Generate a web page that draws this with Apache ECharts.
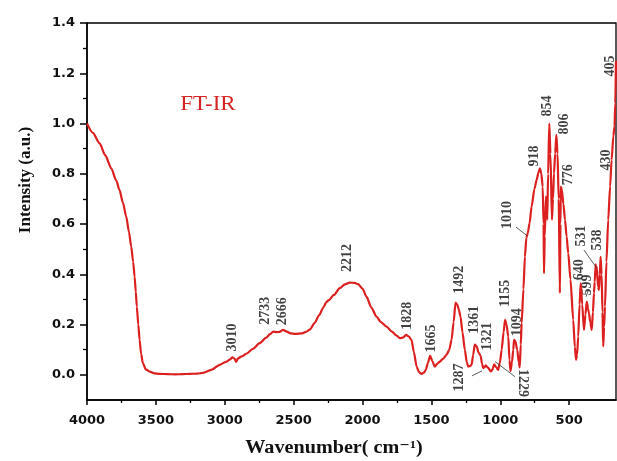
<!DOCTYPE html>
<html>
<head>
<meta charset="utf-8">
<script src="https://cdn.jsdelivr.net/npm/echarts@6/dist/echarts.min.js"></script>
<style>
  html, body { margin: 0; padding: 0; background: #ffffff; }
  #chart { width: 617px; height: 461px; }
</style>
</head>
<body>
<div id="chart"></div>
<script>
// FT-IR spectrum: wavenumber (cm^-1) and normalised intensity
const wavenumber = [
  4000, 3960, 3915, 3875, 3835, 3800, 3779, 3755, 3733, 3715, 3699, 3686, 3676, 3668, 3661, 3651,
  3642, 3632, 3620, 3600, 3574, 3540, 3506, 3450, 3400, 3350, 3300, 3250, 3211, 3150, 3097, 3050,
  3025, 3010, 2995, 2985, 2972, 2945, 2916, 2870, 2825, 2780, 2755, 2733, 2710, 2690, 2666, 2640,
  2615, 2580, 2541, 2510, 2484, 2450, 2420, 2390, 2371, 2355, 2320, 2280, 2245, 2212, 2180, 2155,
  2125, 2098, 2065, 2030, 2000, 1962, 1925, 1895, 1871, 1850, 1828, 1810, 1792, 1775, 1757, 1740,
  1724, 1707, 1694, 1680, 1665, 1650, 1633, 1615, 1599, 1575, 1553, 1535, 1519, 1505, 1492, 1480,
  1470, 1458, 1445, 1429, 1415, 1406, 1395, 1383, 1372, 1361, 1349, 1335, 1321, 1312, 1304, 1295,
  1287, 1270, 1252, 1240, 1229, 1215, 1202, 1190, 1178, 1165, 1155, 1145, 1133, 1125, 1118, 1108,
  1099, 1094, 1085, 1072, 1062, 1055, 1048, 1042, 1030, 1020, 1010, 1000, 988, 974, 955, 940,
  928, 918, 908, 899, 893, 890, 885, 877, 872, 868, 862, 854, 846, 836, 829, 822,
  814, 806, 798, 790, 782, 778, 776, 768, 758, 747, 736, 725, 710, 691, 680, 672,
  665, 657, 648, 640, 630, 618, 608, 599, 590, 584, 575, 565, 557, 550, 545, 538,
  534, 531, 522, 516, 510, 505, 498, 492, 487, 481, 475, 465, 453, 440, 430, 418,
  410, 405, 400
];
const intensity = [
  1.000, 0.963, 0.922, 0.873, 0.822, 0.772, 0.736, 0.684, 0.630, 0.570, 0.510, 0.450, 0.391, 0.330, 0.272, 0.200,
  0.139, 0.085, 0.047, 0.022, 0.013, 0.006, 0.004, 0.003, 0.002, 0.003, 0.004, 0.005, 0.008, 0.021, 0.040, 0.053,
  0.062, 0.070, 0.064, 0.052, 0.066, 0.074, 0.084, 0.104, 0.126, 0.148, 0.162, 0.172, 0.170, 0.171, 0.179, 0.172,
  0.165, 0.163, 0.165, 0.171, 0.180, 0.207, 0.238, 0.270, 0.290, 0.297, 0.318, 0.345, 0.360, 0.367, 0.366, 0.361,
  0.343, 0.311, 0.268, 0.232, 0.210, 0.192, 0.172, 0.157, 0.146, 0.148, 0.159, 0.152, 0.139, 0.090, 0.033, 0.010,
  0.004, 0.009, 0.020, 0.048, 0.076, 0.055, 0.033, 0.045, 0.053, 0.065, 0.080, 0.100, 0.139, 0.210, 0.288, 0.280,
  0.260, 0.232, 0.170, 0.100, 0.050, 0.033, 0.035, 0.040, 0.080, 0.120, 0.114, 0.088, 0.076, 0.045, 0.027, 0.030,
  0.038, 0.028, 0.014, 0.022, 0.042, 0.030, 0.020, 0.050, 0.100, 0.170, 0.219, 0.200, 0.152, 0.060, 0.015, 0.050,
  0.100, 0.139, 0.133, 0.100, 0.050, 0.030, 0.120, 0.206, 0.340, 0.470, 0.545, 0.565, 0.605, 0.670, 0.740, 0.776,
  0.805, 0.822, 0.800, 0.749, 0.600, 0.404, 0.550, 0.709, 0.690, 0.617, 0.800, 1.000, 0.880, 0.617, 0.700, 0.802,
  0.880, 0.955, 0.880, 0.700, 0.325, 0.600, 0.749, 0.735, 0.680, 0.617, 0.550, 0.484, 0.380, 0.219, 0.110, 0.060,
  0.080, 0.152, 0.280, 0.365, 0.280, 0.179, 0.240, 0.292, 0.262, 0.245, 0.210, 0.179, 0.250, 0.325, 0.370, 0.440,
  0.410, 0.430, 0.350, 0.338, 0.400, 0.470, 0.400, 0.250, 0.113, 0.190, 0.272, 0.450, 0.617, 0.750, 0.855, 0.950,
  0.990, 1.080, 1.250
];

// Peak assignments written on the spectrum
const peakNames = [
  '3010', '2733', '2666', '2212', '1828', '1665', '1492', '1361', '1321', '1155', '1094', '1287',
  '1229', '1010', '918', '854', '806', '776', '640', '599', '531', '538', '430', '405'
];

// Axis tick values
const xMajorTicks = [500, 1000, 1500, 2000, 2500, 3000, 3500, 4000];
const xMinorTicks = [750, 1250, 1750, 2250, 2750, 3250, 3750];
const yMajorTicks = [0, 0.2, 0.4, 0.6, 0.8, 1.0, 1.2, 1.4];
const yMinorTicks = [0.1, 0.3, 0.5, 0.7, 0.9, 1.1, 1.3];

// Where each peak note sits (centre of the text, in spectrum units) and its rotation
const noteLayout = {
  '3010': [3012, 0.149, 90], '2733': [2784, 0.255, 90], '2666': [2668, 0.253, 90],
  '2212': [2226, 0.465, 90], '1828': [1817, 0.235, 90], '1665': [1653, 0.145, 90],
  '1492': [1469, 0.378, 90], '1361': [1367, 0.219, 90], '1321': [1272, 0.153, 90],
  '1155': [1156, 0.324, 90], '1094': [1074, 0.209, 90], '1287': [1469, -0.010, 90],
  '1229': [1033, -0.032, -90], '1010': [1139, 0.636, 90], '918': [958, 0.871, 90],
  '854': [870, 1.070, 90], '806': [753, 0.998, 90], '776': [727, 0.796, 90],
  '640': [652, 0.418, 90], '599': [597, 0.358, 90], '531': [638, 0.553, 90],
  '538': [530, 0.537, 90], '430': [468, 0.855, 90], '405': [441, 1.229, 90]
};

// Thin pointer lines joining a few notes to their bands
const pointerLines = [
  [[1380, -0.004], [1312, 0.016]],
  [[1224, 0.053], [1088, -0.007]],
  [[1081, 0.588], [1004, 0.553]],
  [[618, 0.497], [531, 0.424]],
  [[589, 0.335], [604, 0.311]]
];

const lineColor = '#dc1f1f';
const spectrum = wavenumber.map((w, i) => [w, intensity[i]]);
const notes = peakNames.map(name => {
  const [x, y, rot] = noteLayout[name];
  return { value: [x, y], label: { formatter: name, rotate: rot } };
});

const tickFont = { fontFamily: 'DejaVu Sans', fontWeight: 'bold', fontSize: 13, color: '#111' };

const chart = echarts.init(document.getElementById('chart'), null, { renderer: 'canvas' });
chart.setOption({
  animation: false,
  backgroundColor: '#ffffff',
  grid: {
    left: 87, right: 1, top: 23, bottom: 61,
    show: true, borderColor: '#000', borderWidth: 1.3, backgroundColor: 'transparent'
  },
  xAxis: [
    {
      type: 'value', inverse: true, min: 160, max: 4000, position: 'bottom',
      axisLine: { show: true, onZero: false, lineStyle: { color: '#000', width: 1.5 } },
      axisTick: { show: true, inside: false, length: 5, customValues: xMajorTicks, lineStyle: { color: '#000', width: 1.5 } },
      axisLabel: { show: true, margin: 14, customValues: xMajorTicks, formatter: v => String(v), ...tickFont },
      splitLine: { show: false }
    },
    {
      type: 'value', inverse: true, min: 160, max: 4000, position: 'bottom',
      axisLine: { show: false, onZero: false },
      axisTick: { show: true, inside: false, length: 3, customValues: xMinorTicks, lineStyle: { color: '#000', width: 1.3 } },
      axisLabel: { show: false },
      splitLine: { show: false }
    },
    {
      type: 'value', inverse: true, min: 400, max: 4000, show: false,
      splitLine: { show: false }
    }
  ],
  yAxis: [
    {
      type: 'value', min: -0.1, max: 1.4, position: 'left',
      axisLine: { show: true, onZero: false, lineStyle: { color: '#000', width: 1.5 } },
      axisTick: { show: true, inside: false, length: 7, customValues: yMajorTicks, lineStyle: { color: '#000', width: 1.5 } },
      axisLabel: { show: true, margin: 12, customValues: yMajorTicks, formatter: v => v.toFixed(1), ...tickFont },
      splitLine: { show: false }
    },
    {
      type: 'value', min: -0.1, max: 1.4, position: 'left',
      axisLine: { show: false, onZero: false },
      axisTick: { show: true, inside: false, length: 4, customValues: yMinorTicks, lineStyle: { color: '#000', width: 1.3 } },
      axisLabel: { show: false },
      splitLine: { show: false }
    }
  ],
  series: [
    {
      type: 'line', xAxisIndex: 2, yAxisIndex: 0,
      data: spectrum,
      showSymbol: false, symbol: 'none',
      smooth: 0.25, smoothMonotone: 'x',
      lineStyle: { color: lineColor, width: 2.2 },
      silent: true
    },
    {
      type: 'scatter', xAxisIndex: 2, yAxisIndex: 0,
      data: notes,
      symbolSize: 0, silent: true,
      label: {
        show: true, position: 'inside',
        fontFamily: 'Liberation Serif', fontWeight: 'bold', fontSize: 14, color: '#111'
      },
      markLine: {
        silent: true, symbol: 'none',
        label: { show: false },
        lineStyle: { color: '#333', width: 0.8, type: 'solid' },
        data: pointerLines.map(([a, b]) => [{ coord: a }, { coord: b }])
      }
    }
  ],
  graphic: [
    {
      type: 'text', x: 208, y: 105, scaleX: 1.15,
      style: {
        text: 'FT-IR', x: 0, y: 0, align: 'center', verticalAlign: 'middle',
        font: '20px "Liberation Serif"', fill: '#d42424'
      }
    },
    {
      type: 'text', x: 26, y: 180, rotation: Math.PI / 2,
      style: {
        text: 'Intensity (a.u.)', x: 0, y: 0, align: 'center', verticalAlign: 'middle',
        font: 'bold 17px "Liberation Serif"', fill: '#111'
      }
    },
    {
      type: 'text', x: 334, y: 448, scaleX: 1.12,
      style: {
        text: 'Wavenumber( cm⁻¹)', x: 0, y: 0, align: 'center', verticalAlign: 'middle',
        font: 'bold 18px "Liberation Serif", "DejaVu Serif"', fill: '#111'
      }
    }
  ]
});
</script>
</body>
</html>
